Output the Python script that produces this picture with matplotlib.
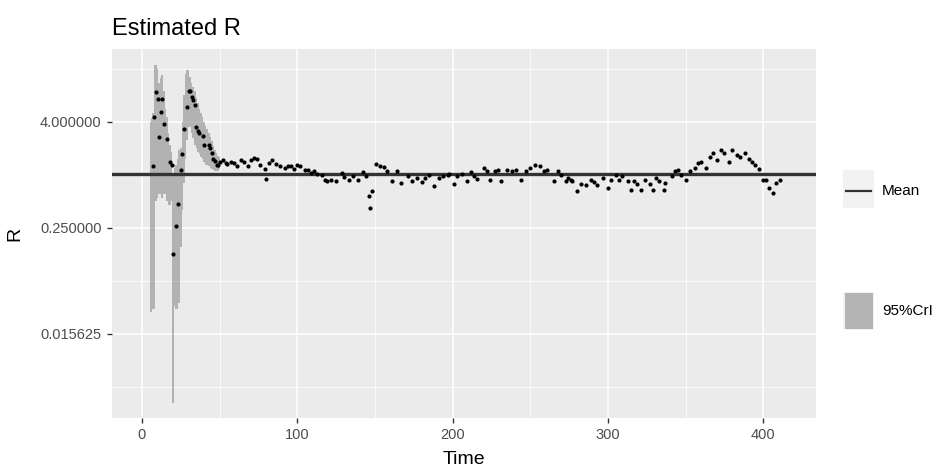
#!/usr/bin/env python3
# -*- coding: utf-8 -*-

import matplotlib
matplotlib.use('Agg')
import matplotlib.pyplot as plt
from matplotlib.lines import Line2D
from matplotlib.patches import Rectangle
from matplotlib.ticker import FixedLocator, FixedFormatter, NullFormatter

plt.rcParams['font.family'] = ['Liberation Sans', 'DejaVu Sans']

# daily estimate of R (posterior mean)
days = [7, 8, 9, 10, 11, 12, 13, 14, 16, 18, 19, 20, 22, 23, 25, 26, 27, 29, 30, 31,
        32, 33, 34, 35, 36, 37, 39, 40, 43, 44, 45, 46, 47, 48, 49, 50, 52, 54, 55, 57,
        59, 61, 64, 66, 68, 70, 72, 74, 76, 79, 80, 82, 84, 86, 89, 92, 94, 96, 98, 100,
        102, 105, 107, 109, 111, 113, 116, 118, 119, 122, 125, 129, 130, 133, 136, 139, 142, 144, 146, 147,
        148, 151, 153, 156, 158, 161, 164, 167, 171, 174, 177, 180, 182, 185, 188, 191, 194, 197, 198, 201,
        203, 206, 209, 212, 214, 216, 220, 222, 224, 227, 229, 231, 235, 238, 241, 244, 247, 250, 253, 256,
        259, 261, 265, 268, 270, 273, 274, 276, 277, 280, 283, 286, 289, 291, 293, 297, 300, 302, 305, 307,
        309, 313, 315, 317, 319, 321, 324, 327, 329, 331, 333, 336, 337, 341, 343, 345, 347, 350, 353, 356,
        358, 360, 363, 366, 368, 370, 373, 375, 378, 380, 383, 385, 388, 391, 393, 395, 397, 400, 402, 404,
        406, 408, 411]
r_mean = [1.27, 4.5, 8.8, 7.3, 2.65, 5.2, 7.3, 3.8, 2.56, 1.41, 1.3, 0.127, 0.26, 0.46, 1.14, 1.73, 3.3, 5.8, 9.0, 9.0,
          7.7, 7.0, 6.2, 3.5, 3.1, 3.0, 2.77, 2.19, 2.19, 2.0, 1.76, 1.5, 1.44, 1.3, 1.3, 1.41, 1.48, 1.37, 1.33, 1.41,
          1.36, 1.27, 1.46, 1.41, 1.26, 1.46, 1.55, 1.5, 1.3, 1.17, 0.9, 1.37, 1.46, 1.33, 1.26, 1.2, 1.26, 1.27, 1.17, 1.3,
          1.26, 1.12, 1.14, 1.06, 1.1, 1.03, 1.0, 0.88, 0.84, 0.88, 0.84, 1.06, 0.94, 0.88, 0.97, 0.88, 1.08, 0.97, 0.57, 0.42,
          0.65, 1.34, 1.27, 1.23, 1.1, 0.84, 1.1, 0.8, 0.97, 0.84, 0.92, 0.82, 0.92, 1.0, 0.74, 0.92, 0.97, 1.0, 1.03, 0.78,
          0.97, 1.03, 0.84, 1.08, 0.97, 0.9, 1.19, 1.1, 0.88, 1.1, 1.14, 0.84, 1.14, 1.1, 1.14, 0.88, 1.1, 1.19, 1.3, 1.26,
          1.1, 1.14, 0.84, 1.1, 1.0, 0.84, 0.92, 0.88, 0.84, 0.66, 0.78, 0.76, 0.88, 0.82, 0.76, 0.92, 0.71, 0.88, 1.0, 0.88,
          0.97, 0.84, 0.68, 0.84, 0.78, 0.68, 0.88, 0.78, 0.68, 0.92, 0.84, 0.68, 0.8, 0.97, 1.1, 1.14, 1.0, 0.88, 1.1, 1.19,
          1.36, 1.41, 1.19, 1.61, 1.76, 1.46, 1.92, 1.76, 1.41, 1.92, 1.66, 1.61, 1.76, 1.5, 1.41, 1.3, 1.17, 0.88, 0.88, 0.71,
          0.62, 0.8, 0.88]

# 95% credible interval, only wide enough to show in the first weeks
cri_days = [5, 6, 7, 8, 9, 10, 11, 12, 13, 14, 15, 16, 17, 18, 19, 20, 21, 22, 23, 24,
            25, 26, 27, 28, 29, 30, 31, 32, 33, 34, 35, 36, 37, 38, 39, 40, 41, 42, 43, 44,
            45, 46, 47, 48, 49, 50]
cri_lo = [0.028, 0.028, 0.03, 0.03, 0.5, 0.55, 0.6, 0.6, 0.55, 0.6, 0.6, 0.5, 0.45, 0.45, 0.5, 0.0026, 0.032, 0.03, 0.03, 0.035,
          0.15, 0.4, 0.8, 1.5, 2.5, 3.5, 3.5, 3.0, 2.6, 2.2, 2.0, 1.8, 1.7, 1.6, 1.5, 1.4, 1.3, 1.3, 1.25, 1.2,
          1.15, 1.12, 1.1, 1.1, 1.1, 1.15]
cri_hi = [4.0, 4.4, 5.0, 17.8, 17.8, 16.0, 11.0, 12.4, 13.6, 9.0, 5.5, 4.5, 3.0, 2.2, 1.8, 1.0, 1.2, 1.3, 1.5, 1.9,
          2.0, 4.0, 8.0, 14.0, 15.6, 15.6, 13.0, 11.0, 10.0, 9.0, 7.5, 6.5, 5.5, 5.0, 4.5, 4.0, 3.6, 3.3, 3.0, 2.7,
          2.4, 2.1, 1.9, 1.75, 1.65, 1.6]

R_MEAN = 1.02

y_breaks = [4.0, 0.25, 0.015625]
y_minor = [16.0, 1.0, 0.0625, 0.00390625]
x_breaks = [0, 100, 200, 300, 400]
x_minor = [50, 150, 250, 350]

PANEL = '#EBEBEB'
INK = '#4D4D4D'

fig = plt.figure(figsize=(9.39, 4.76), dpi=100)
ax = fig.add_axes([0.1193, 0.122, 0.7497, 0.775])
ax.set_facecolor(PANEL)

ax.fill_between(cri_days, cri_lo, cri_hi, step='mid', color='#8C8C8C', alpha=0.6,
                linewidth=0, zorder=2)
ax.axhline(R_MEAN, color='#333333', linewidth=2.4, zorder=3)
ax.scatter(days, r_mean, s=9, color='black', linewidths=0, zorder=4)

ax.set_yscale('log', base=2)
ax.set_xlim(-19.3, 434)
ax.set_ylim(0.00174, 26.7)

ax.yaxis.set_major_locator(FixedLocator(y_breaks))
ax.yaxis.set_major_formatter(FixedFormatter([f'{v:.6f}' for v in y_breaks]))
ax.yaxis.set_minor_locator(FixedLocator(y_minor))
ax.yaxis.set_minor_formatter(NullFormatter())
ax.set_xticks(x_breaks)
ax.set_xticks(x_minor, minor=True)

ax.grid(which='major', color='white', linewidth=1.1)
ax.grid(which='minor', color='white', linewidth=0.55)
ax.set_axisbelow(True)
for s in ax.spines.values():
    s.set_visible(False)
ax.tick_params(which='major', length=3.5, width=1.0, color='#333333',
               labelcolor=INK, labelsize=10.5, pad=4)
ax.tick_params(which='minor', length=0)

ax.set_xlabel('Time', fontsize=14, color='black', labelpad=6)
ax.set_ylabel('R', fontsize=14, color='black', labelpad=12)
ax.set_title('Estimated R', fontsize=17, loc='left', pad=10)

# legend keys drawn on the right margin
fig.add_artist(Rectangle((843 / 939, 1 - 208 / 476), 31 / 939, 38 / 476,
                         transform=fig.transFigure, facecolor='#F2F2F2', edgecolor='none'))
fig.add_artist(Line2D([846 / 939, 871 / 939], [1 - 191 / 476, 1 - 191 / 476],
                      transform=fig.transFigure, color='#333333', linewidth=1.6))
fig.text(882 / 939, 1 - 191 / 476, 'Mean', fontsize=11, va='center', color='black')

fig.add_artist(Rectangle((843 / 939, 1 - 330 / 476), 31 / 939, 38 / 476,
                         transform=fig.transFigure, facecolor='#F2F2F2', edgecolor='none'))
fig.add_artist(Rectangle((845 / 939, 1 - 329 / 476), 28 / 939, 36 / 476,
                         transform=fig.transFigure, facecolor='#8C8C8C', alpha=0.6,
                         edgecolor='none'))
fig.text(882 / 939, 1 - 311 / 476, '95%CrI', fontsize=11, va='center', color='black')

fig.savefig('out.png', dpi=100)
